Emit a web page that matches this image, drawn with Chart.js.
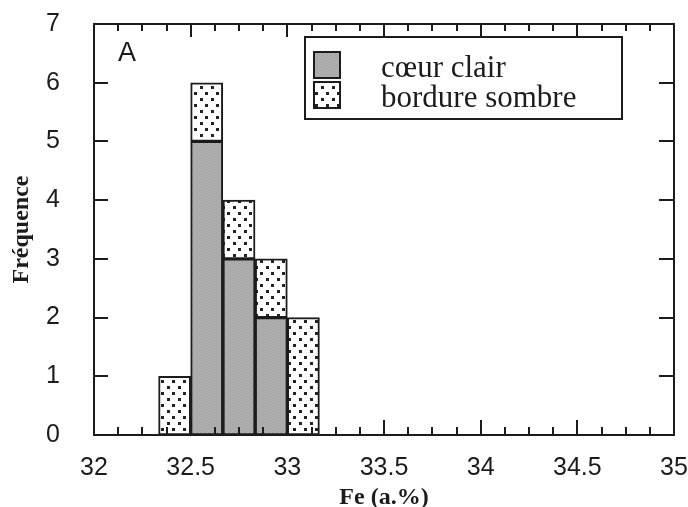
<!DOCTYPE html>
<html>
<head>
<meta charset="utf-8">
<script src="https://cdn.jsdelivr.net/npm/chart.js@4.4.1/dist/chart.umd.min.js"></script>
<style>
  body { margin: 0; background: #fff; }
  canvas { display: block; }
</style>
</head>
<body>
<canvas id="feHisto" width="688" height="507"></canvas>
<script>
// histogram bins (bin centres, width 1/6 a.%)
const binCenters = [32.417, 32.583, 32.75, 32.917, 33.083];
const coeurClair = [0, 5, 3, 2, 0];
const bordureSombre = [1, 1, 1, 1, 2];
const seriesLabels = ["cœur clair", "bordure sombre"];
const xTickValues = [32, 32.5, 33, 33.5, 34, 34.5, 35];
const yTickValues = [0, 1, 2, 3, 4, 5, 6, 7];

const ink = "#1c1c1c";

// grey screen fill
const makeGrey = () => {
  const c = document.createElement("canvas");
  c.width = 4; c.height = 4;
  const g = c.getContext("2d");
  const shades = ["#a8a8a8", "#b6b6b6", "#aeaeae", "#a2a2a2"];
  for (let i = 0; i < 4; i++)
    for (let j = 0; j < 4; j++) {
      g.fillStyle = shades[(i * 3 + j * 2) % 4];
      g.fillRect(i, j, 1, 1);
    }
  return g.createPattern(c, "repeat");
};

// dotted fill
const makeDots = () => {
  const c = document.createElement("canvas");
  c.width = 11; c.height = 12;
  const g = c.getContext("2d");
  g.fillStyle = "#fff";
  g.fillRect(0, 0, 11, 12);
  g.fillStyle = "#222";
  g.fillRect(2, 2, 3, 3);
  g.fillRect(7, 8, 3, 3);
  return g.createPattern(c, "repeat");
};

const greyFill = makeGrey();
const dotFill = makeDots();

const frameAndTicks = {
  id: "frameAndTicks",
  afterDatasetsDraw(chart) {
    const { ctx, chartArea: a, scales: { x, y } } = chart;
    ctx.save();
    ctx.strokeStyle = ink;
    ctx.lineWidth = 2;
    ctx.strokeRect(a.left, a.top, a.right - a.left, a.bottom - a.top);

    ctx.beginPath();
    for (let v = x.min + 0.125; v < x.max - 1e-9; v += 0.125) {
      const px = Math.round(x.getPixelForValue(v));
      const major = Math.abs(v * 2 - Math.round(v * 2)) < 1e-6;
      ctx.moveTo(px, a.bottom);
      ctx.lineTo(px, a.bottom - (major ? 15 : 8));
      ctx.moveTo(px, a.top);
      ctx.lineTo(px, a.top + (major ? 13 : 7));
    }
    yTickValues.forEach((v) => {
      if (v === y.min || v === y.max) return;
      const py = Math.round(y.getPixelForValue(v));
      ctx.moveTo(a.left, py);
      ctx.lineTo(a.left + 14, py);
      ctx.moveTo(a.right, py);
      ctx.lineTo(a.right - 15, py);
    });
    ctx.stroke();

    // panel letter
    ctx.fillStyle = ink;
    ctx.font = "27px 'Liberation Sans'";
    ctx.textBaseline = "alphabetic";
    ctx.fillText("A", 118, 61);

    // legend box
    ctx.fillStyle = "#fff";
    ctx.fillRect(305, 37, 317, 82);
    ctx.strokeRect(305, 37, 317, 82);
    const fills = [greyFill, dotFill];
    ctx.font = "31px 'Liberation Serif'";
    seriesLabels.forEach((lab, i) => {
      const top = 52 + i * 30;
      ctx.fillStyle = fills[i];
      ctx.fillRect(314, top, 26, 26);
      ctx.strokeRect(314, top, 26, 26);
      ctx.fillStyle = ink;
      ctx.fillText(lab, 381, top + 25);
    });
    ctx.restore();
  },
};

new Chart(document.getElementById("feHisto"), {
  type: "bar",
  data: {
    datasets: [
      {
        label: seriesLabels[0],
        data: binCenters.map((c, i) => ({ x: c, y: coeurClair[i] })),
        backgroundColor: greyFill,
        stack: "fe",
      },
      {
        label: seriesLabels[1],
        data: binCenters.map((c, i) => ({ x: c, y: bordureSombre[i] })),
        backgroundColor: dotFill,
        stack: "fe",
      },
    ],
  },
  plugins: [frameAndTicks],
  options: {
    responsive: false,
    devicePixelRatio: 1,
    animation: false,
    layout: { padding: { top: 24, right: 14, left: 0, bottom: 0 } },
    datasets: {
      bar: {
        borderColor: ink,
        borderWidth: 2,
        borderSkipped: false,
        barPercentage: 1,
        categoryPercentage: 1,
      },
    },
    plugins: {
      legend: { display: false },
      tooltip: { enabled: false },
    },
    scales: {
      x: {
        type: "linear",
        offset: false,
        min: 32,
        max: 35,
        afterBuildTicks: (s) => { s.ticks = xTickValues.map((v) => ({ value: v })); },
        afterFit: (s) => {
          s.height = 72;
          s.paddingLeft = 0;
          s.paddingRight = 0;
        },
        grid: { display: false },
        border: { display: false },
        ticks: {
          color: ink,
          padding: 10,
          maxRotation: 0,
          autoSkip: false,
          callback: (v) => String(v),
          font: { family: "'Liberation Sans'", size: 25 },
        },
        title: {
          display: true,
          text: "Fe (a.%)",
          color: ink,
          padding: { top: 0, bottom: -3 },
          font: { family: "'Liberation Serif'", size: 24, weight: "bold", lineHeight: 1 },
        },
      },
      y: {
        stacked: true,
        min: 0,
        max: 7,
        afterBuildTicks: (s) => { s.ticks = yTickValues.map((v) => ({ value: v })); },
        afterFit: (s) => {
          s.width = 94;
          s.paddingTop = 0;
          s.paddingBottom = 0;
        },
        grid: { display: false },
        border: { display: false },
        ticks: {
          color: ink,
          padding: 26,
          font: { family: "'Liberation Sans'", size: 25 },
        },
        title: {
          display: true,
          text: "Fréquence",
          color: ink,
          padding: { top: 10, bottom: 0 },
          font: { family: "'Liberation Serif'", size: 24, weight: "bold", lineHeight: 1 },
        },
      },
    },
  },
});
</script>
</body>
</html>
